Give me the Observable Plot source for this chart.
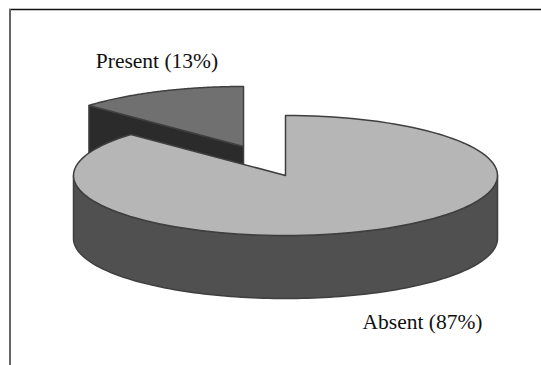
<!DOCTYPE html>
<html>
<head>
<meta charset="utf-8">
<style>
  html, body { margin: 0; padding: 0; background: #fff; }
  svg { display: block; }
</style>
<script src="https://cdn.jsdelivr.net/npm/d3@7"></script>
<script src="https://cdn.jsdelivr.net/npm/@observablehq/plot@0.6"></script>
</head>
<body>
<script>
// Category shares of the pie, in percent
const categories = ["Absent", "Present"];
const shares = [87, 13];

const width = 541, height = 365;

// The tilted pie is drawn in radius units: one unit is the ellipse's semi-axis on each scale
const rx = 212, ry = 60;
const centreX = 285, centreY = 175;
const xDomain = [-centreX / rx, (width - centreX) / rx];
const yDomain = [centreY / ry, (centreY - height) / ry];
const depth = 63 / ry;                       // height of the pie's side wall
const pulled = { dx: -42 / rx, dy: 29 / ry }; // how far the small slice is pulled out

const point = (turn, o = { dx: 0, dy: 0 }, drop = 0) => ({
  x: o.dx + Math.sin(turn * 2 * Math.PI),
  y: o.dy + Math.cos(turn * 2 * Math.PI) - drop
});
const arc = (from, to, o, drop) =>
  d3.range(0, 121).map((i) => point(from + ((to - from) * i) / 120, o, drop));

const absentEnd = shares[0] / 100;

// Top faces of the two slices
const wedge = (from, to, o = { dx: 0, dy: 0 }) => {
  const apex = { x: o.dx, y: o.dy };
  return [apex, ...arc(from, to, o), apex];
};

// Front wall of the large slice, from the right extreme round to the left one
const frontWall = [...arc(0.25, 0.75), ...arc(0.75, 0.25, undefined, depth)];
frontWall.push(frontWall[0]);

// Cut face of the pulled-out slice, seen through the gap
const corner = point(absentEnd, pulled);
const apex = { x: pulled.dx, y: pulled.dy };
const cutFace = [
  corner, apex,
  { x: apex.x, y: apex.y - depth },
  { x: corner.x, y: corner.y - depth },
  corner
];

const face = (pts, fill) =>
  Plot.line(pts, { x: "x", y: "y", fill, stroke: "#3f3f3f", strokeWidth: 1.5, strokeLinejoin: "round" });

const labels = [
  { text: `${categories[1]} (${shares[1]}%)`, x: (156.5 - centreX) / rx, y: (centreY - 61) / ry },
  { text: `${categories[0]} (${shares[0]}%)`, x: (422 - centreX) / rx, y: (centreY - 322) / ry }
];

const chart = Plot.plot({
  width, height,
  margin: 0,
  axis: null,
  x: { domain: xDomain, range: [0, width] },
  y: { domain: yDomain, range: [0, height] },
  marks: [
    // Frame on the top and left of the figure
    Plot.ruleY([(centreY - 9) / ry], { x1: (9 - centreX) / rx, x2: xDomain[1], stroke: "#111", strokeWidth: 1.5 }),
    Plot.ruleX([(9.5 - centreX) / rx], { y1: (centreY - 9) / ry, y2: yDomain[1], stroke: "#666", strokeWidth: 2 }),

    // Pulled-out slice, then the large slice over it
    face(cutFace, "#2b2b2b"),
    face(wedge(absentEnd, 1, pulled), "#707070"),
    face(frontWall, "#505050"),
    face(wedge(0, absentEnd), "#b6b6b6"),

    Plot.text(labels, {
      x: "x", y: "y", text: "text",
      fontFamily: "Liberation Serif", fontSize: 21.5, fill: "#111"
    })
  ]
});
document.body.appendChild(chart);
</script>
</body>
</html>
